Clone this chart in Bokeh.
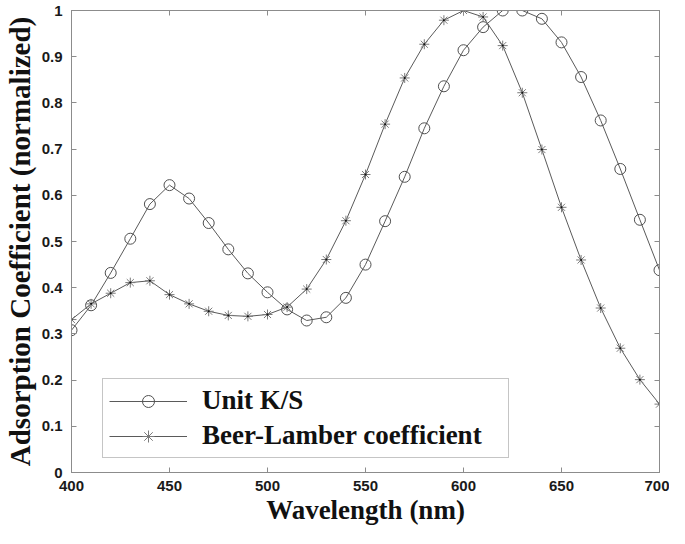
from bokeh.plotting import figure
from bokeh.models import (LinearAxis, FixedTicker, CustomJSTickFormatter, Legend,
                          LegendItem, Range1d)
from bokeh.embed import file_html
from bokeh.resources import INLINE

# ---- data ----
wavelength = [400, 410, 420, 430, 440, 450, 460, 470, 480, 490, 500, 510, 520, 530, 540, 550,
              560, 570, 580, 590, 600, 610, 620, 630, 640, 650, 660, 670, 680, 690, 700]
unit_ks = [0.308, 0.362, 0.432, 0.506, 0.581, 0.622, 0.593, 0.540, 0.483, 0.431, 0.390,
           0.353, 0.329, 0.336, 0.378, 0.450, 0.544, 0.640, 0.745, 0.836, 0.914, 0.964,
           1.000, 1.000, 0.982, 0.931, 0.856, 0.762, 0.657, 0.547, 0.438]
beer_lambert = [0.331, 0.365, 0.388, 0.411, 0.415, 0.385, 0.365, 0.349, 0.340, 0.338, 0.342,
                0.358, 0.397, 0.461, 0.545, 0.645, 0.754, 0.854, 0.927, 0.979, 1.000, 0.986,
                0.924, 0.822, 0.699, 0.574, 0.460, 0.356, 0.269, 0.201, 0.148]
x_ticks = [400, 450, 500, 550, 600, 650, 700]
y_ticks = [0, 0.1, 0.2, 0.3, 0.4, 0.5, 0.6, 0.7, 0.8, 0.9, 1.0]
series_names = ["Unit K/S", "Beer-Lamber coefficient"]
x_title = "Wavelength (nm)"
y_title = "Adsorption Coefficient (normalized)"

GRAY = "#8c8c8c"
LINE = "#5a5a5a"
TICKFONT = "Liberation Sans"
SERIF = "Liberation Serif"

p = figure(width=669, height=528, output_backend="svg", toolbar_location=None,
           x_range=Range1d(400, 700), y_range=Range1d(0, 1),
           min_border_left=65, min_border_right=10, min_border_top=10, min_border_bottom=56)
p.grid.visible = False
p.outline_line_color = GRAY
p.outline_line_width = 1
p.background_fill_color = "white"
p.border_fill_color = "white"

fmt = CustomJSTickFormatter(code="return String(Math.round(tick*10)/10);")
blank = CustomJSTickFormatter(code="return '';")


def style_axis(ax, show_labels=True):
    ax.axis_line_color = GRAY
    ax.major_tick_line_color = GRAY
    ax.major_tick_in = 5
    ax.major_tick_out = 0
    ax.minor_tick_line_color = None
    if show_labels:
        ax.major_label_text_font = TICKFONT
        ax.major_label_text_font_style = "bold"
        ax.major_label_text_font_size = "15px"
        ax.major_label_text_color = "#1a1a1a"
        ax.axis_label_text_font = SERIF
        ax.axis_label_text_font_style = "bold"
        ax.axis_label_text_color = "#111111"
    else:
        ax.formatter = blank
        ax.major_label_standoff = 0
        ax.axis_label = None


xa = p.xaxis[0]
xa.ticker = FixedTicker(ticks=x_ticks)
xa.formatter = fmt
style_axis(xa)
xa.major_label_standoff = 8
xa.axis_label = x_title
xa.axis_label_text_font_size = "27px"
xa.axis_label_standoff = 1

ya = p.yaxis[0]
ya.ticker = FixedTicker(ticks=y_ticks)
ya.formatter = fmt
style_axis(ya)
ya.major_label_standoff = 9
ya.axis_label = y_title
ya.axis_label_text_font_size = "29px"
ya.axis_label_standoff = 3

top = LinearAxis(ticker=FixedTicker(ticks=x_ticks))
style_axis(top, False)
p.add_layout(top, "above")
right = LinearAxis(ticker=FixedTicker(ticks=y_ticks))
style_axis(right, False)
p.add_layout(right, "right")

l1 = p.line(wavelength, unit_ks, line_color=LINE, line_width=1)
m1 = p.scatter(wavelength, unit_ks, marker="circle", size=11, fill_color=None,
               line_color="#505050", line_width=1)
l2 = p.line(wavelength, beer_lambert, line_color=LINE, line_width=1)
m2 = p.scatter(wavelength, beer_lambert, marker="asterisk", size=10,
               line_color="#7a7a7a", line_width=1)
m2b = p.scatter(wavelength, beer_lambert, marker="circle", size=2,
                fill_color="#111111", line_color=None)

legend = Legend(items=[LegendItem(label=series_names[0], renderers=[l1, m1]),
                       LegendItem(label=series_names[1], renderers=[l2, m2])],
                location=(31, 14))
legend.border_line_color = GRAY
legend.border_line_width = 1
legend.background_fill_color = "white"
legend.background_fill_alpha = 1
legend.padding = 6
legend.spacing = 4
legend.margin = 0
legend.glyph_height = 30
legend.glyph_width = 78
legend.label_height = 30
legend.label_standoff = 15
legend.label_width = 300
legend.label_text_font = SERIF
legend.label_text_font_style = "bold"
legend.label_text_font_size = "27px"
legend.label_text_color = "#111111"
p.add_layout(legend, "center")

open("out.html", "w").write(file_html(p, INLINE))
